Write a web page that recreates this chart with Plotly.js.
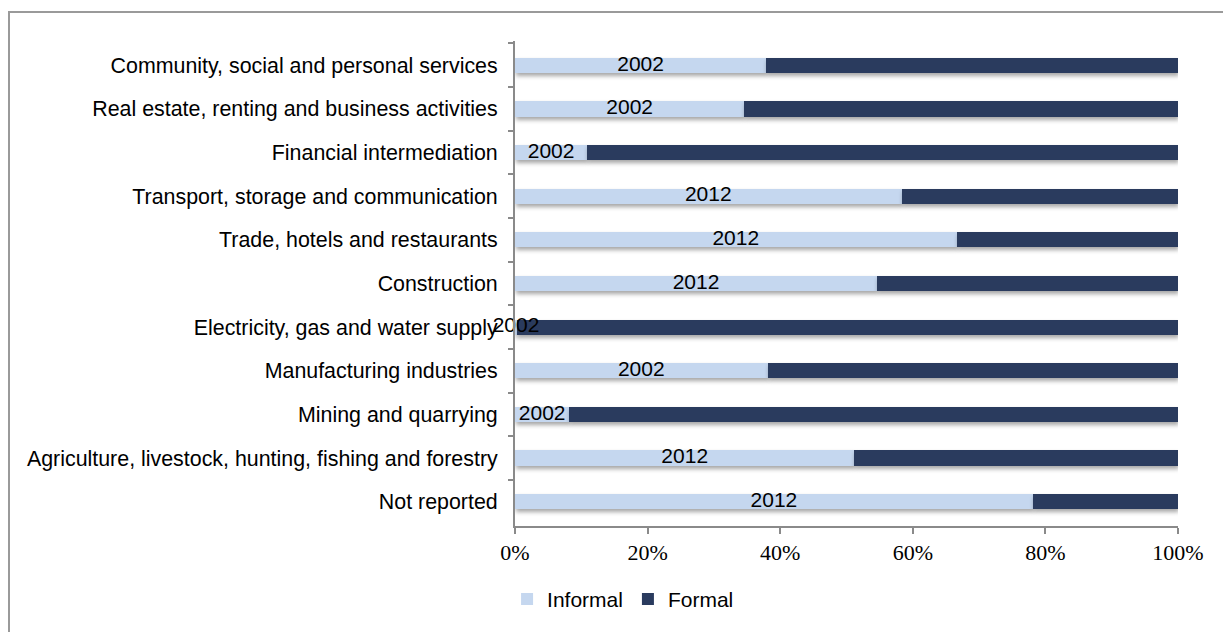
<!DOCTYPE html>
<html>
<head>
<meta charset="utf-8">
<script src="https://cdn.plot.ly/plotly-3.0.1.min.js"></script>
<style>
  html, body { margin: 0; padding: 0; background: #fff; overflow: hidden; }
  #frame { position: absolute; left: 8px; top: 11px; width: 1300px; height: 700px;
           border-left: 2px solid #9a9a9a; border-top: 2px solid #9a9a9a; box-sizing: border-box; pointer-events: none; z-index: 5; }
  #chart { width: 1223px; height: 632px; }
  .bars .point path { filter: drop-shadow(1px 3px 2px rgba(0,0,0,0.35)); }
</style>
</head>
<body>
<div id="frame"></div>
<div id="chart"></div>
<script>
const categories = [
  "Community, social and personal services",
  "Real estate, renting and business activities",
  "Financial intermediation",
  "Transport, storage and communication",
  "Trade, hotels and restaurants",
  "Construction",
  "Electricity, gas and water supply",
  "Manufacturing industries",
  "Mining and quarrying",
  "Agriculture, livestock, hunting, fishing and forestry",
  "Not reported"
];
const informal = [37.9, 34.6, 10.9, 58.3, 66.6, 54.6, 0.3, 38.1, 8.2, 51.2, 78.1];
const formal   = [62.1, 65.4, 89.1, 41.7, 33.4, 45.4, 99.7, 61.9, 91.8, 48.8, 21.9];
const years    = ["2002", "2002", "2002", "2012", "2012", "2012", "2002", "2002", "2002", "2012", "2012"];

const lightBlue = "#C5D7EF";
const darkBlue = "#2A3B5E";
const sans = "Liberation Sans, Arial, sans-serif";

const traces = [
  { type: "bar", orientation: "h", name: "Informal", y: categories, x: informal,
    marker: { color: lightBlue }, hoverinfo: "x+y" },
  { type: "bar", orientation: "h", name: "Formal", y: categories, x: formal,
    marker: { color: darkBlue }, hoverinfo: "x+y" },
  { type: "scatter", mode: "text", y: categories, x: informal.map(v => v / 2),
    text: years, textposition: "middle center",
    textfont: { family: sans, size: 21, color: "#000" },
    showlegend: false, hoverinfo: "skip", cliponaxis: false }
];

const layout = {
  width: 1223, height: 632,
  margin: { l: 515, r: 45, t: 41, b: 102 },
  barmode: "stack",
  bargap: 0.65,
  paper_bgcolor: "#fff", plot_bgcolor: "#fff",
  font: { family: sans, size: 21, color: "#000" },
  xaxis: {
    range: [0, 100], dtick: 20, ticksuffix: "%", showgrid: false, zeroline: false,
    showline: true, linecolor: "#8a8a8a", linewidth: 2,
    ticks: "outside", ticklen: 6, tickwidth: 2, tickcolor: "#8a8a8a",
    tickfont: { family: "Liberation Serif, Times New Roman, serif", size: 22, color: "#000" },
    fixedrange: true
  },
  yaxis: {
    type: "category", autorange: "reversed", showgrid: false, zeroline: false,
    showline: true, linecolor: "#8a8a8a", linewidth: 2,
    ticks: "outside", ticklen: 5, tickwidth: 2, tickcolor: "#8a8a8a", tickson: "boundaries",
    ticklabelstandoff: 11,
    tickfont: { family: sans, size: 21.4, color: "#000" },
    fixedrange: true
  },
  showlegend: true,
  legend: {
    orientation: "h", x: 0.163, xanchor: "center", y: -0.151, yanchor: "middle",
    font: { family: sans, size: 21, color: "#000" },
    itemwidth: 30, traceorder: "normal", tracegroupgap: 0
  }
};

Plotly.newPlot("chart", traces, layout, { displayModeBar: false, staticPlot: true });
</script>
</body>
</html>
